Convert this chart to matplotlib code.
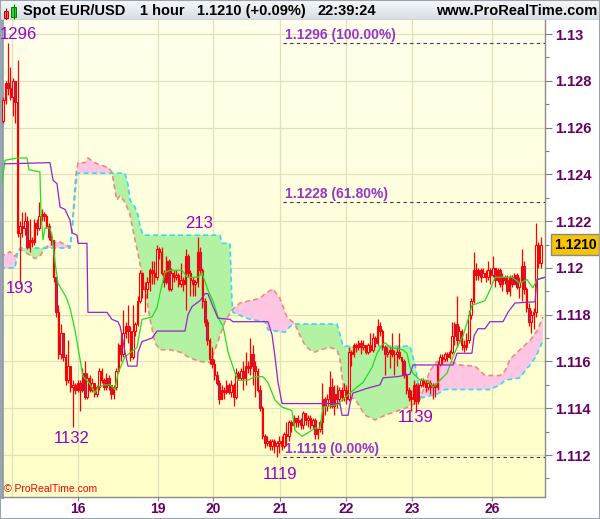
import numpy as np
import matplotlib.pyplot as plt
from matplotlib.patches import Rectangle
from matplotlib.transforms import blended_transform_factory

plt.rcParams['font.family'] = ['Liberation Sans', 'DejaVu Sans']

W, H = 600, 519

# hourly EUR/USD candles, in pips above 1.1000
# (open of a bar = close of the bar before it)
first_open = 263
close_pips = [
    272, 279, 277, 273, 280, 271, 215, 218, 217, 220, 209, 212, 211, 219, 217,
    222, 223, 222, 218, 213, 212, 196, 181, 163, 172, 162, 152, 158, 149, 150,
    148, 151, 148, 155, 145, 153, 148, 151, 146, 149, 156, 152, 149, 153, 150,
    146, 149, 156, 167, 163, 172, 175, 173, 162, 173, 176, 186, 198, 191, 191,
    194, 199, 198, 196, 208, 207, 198, 194, 203, 191, 198, 196, 197, 193, 195,
    193, 205, 198, 195, 193, 194, 207, 199, 186, 177, 169, 161, 159, 154, 151,
    144, 148, 147, 150, 147, 150, 145, 155, 153, 156, 153, 158, 157, 163, 158,
    156, 148, 140, 128, 125, 126, 124, 126, 124, 125, 126, 124, 129, 128, 134,
    133, 136, 134, 135, 133, 138, 135, 136, 133, 135, 129, 131, 134, 144, 141,
    144, 149, 141, 146, 144, 148, 145, 148, 144, 164, 163, 167, 166, 168, 166,
    167, 164, 167, 165, 170, 168, 175, 173, 166, 163, 164, 165, 163, 163, 164,
    162, 160, 154, 148, 145, 144, 150, 143, 150, 152, 151, 149, 151, 149, 150,
    149, 159, 162, 161, 163, 162, 164, 171, 176, 169, 173, 167, 166, 169, 180,
    186, 199, 197, 199, 196, 198, 196, 199, 197, 200, 195, 199, 193, 196, 195,
    190, 196, 193, 197, 192, 194, 201, 191, 183, 177, 180, 181, 210, 202, 210,
]
high_pips = [
    273, 280, 296, 286, 281, 280, 289, 220, 224, 224, 222, 221, 213, 221, 221,
    228, 225, 224, 223, 219, 215, 212, 196, 184, 176, 172, 163, 169, 158, 152,
    151, 152, 152, 157, 160, 155, 154, 153, 151, 150, 157, 157, 153, 155, 154,
    150, 150, 157, 168, 172, 182, 177, 184, 175, 184, 177, 188, 199, 198, 194,
    196, 200, 203, 203, 210, 209, 209, 199, 205, 204, 200, 199, 199, 198, 202,
    196, 208, 206, 199, 196, 195, 213, 209, 200, 187, 178, 170, 166, 161, 156,
    152, 150, 149, 152, 151, 152, 151, 157, 156, 157, 160, 164, 160, 170, 167,
    160, 157, 150, 141, 129, 128, 127, 127, 127, 126, 128, 128, 130, 134, 135,
    135, 137, 136, 137, 136, 139, 138, 137, 137, 136, 136, 131, 135, 151, 145,
    146, 156, 153, 150, 150, 149, 149, 151, 150, 166, 165, 168, 168, 169, 169,
    169, 167, 168, 172, 172, 171, 178, 177, 174, 167, 166, 166, 172, 165, 166,
    172, 162, 161, 155, 149, 148, 152, 151, 151, 153, 153, 152, 152, 152, 151,
    151, 160, 163, 163, 164, 164, 165, 177, 177, 188, 175, 174, 169, 172, 182,
    187, 207, 202, 200, 200, 200, 199, 203, 200, 205, 200, 200, 200, 198, 197,
    197, 197, 197, 198, 198, 196, 208, 203, 192, 185, 182, 183, 219, 211, 213,
]
low_pips = [
    262, 270, 274, 272, 265, 262, 213, 193, 213, 214, 208, 207, 209, 210, 214,
    216, 220, 220, 217, 212, 210, 194, 179, 161, 161, 160, 150, 151, 147, 132,
    146, 147, 139, 147, 144, 144, 147, 147, 145, 145, 148, 151, 148, 148, 148,
    144, 144, 148, 155, 160, 162, 170, 168, 160, 161, 171, 175, 185, 187, 181,
    187, 190, 193, 193, 195, 204, 197, 192, 193, 190, 190, 194, 195, 192, 192,
    190, 182, 196, 188, 188, 188, 192, 197, 183, 175, 167, 159, 157, 152, 150,
    142, 144, 144, 146, 146, 145, 141, 144, 152, 152, 148, 150, 155, 154, 150,
    145, 147, 139, 127, 123, 124, 122, 122, 121, 119, 121, 122, 123, 124, 126,
    130, 131, 132, 132, 131, 131, 133, 132, 131, 131, 127, 127, 130, 129, 137,
    139, 140, 140, 137, 140, 142, 143, 143, 142, 143, 158, 162, 164, 165, 163,
    165, 163, 163, 164, 164, 166, 167, 171, 165, 154, 162, 157, 162, 154, 158,
    161, 154, 153, 146, 143, 139, 142, 139, 142, 149, 149, 147, 148, 146, 144,
    145, 148, 158, 159, 160, 160, 161, 163, 167, 166, 168, 165, 164, 165, 168,
    178, 185, 195, 195, 194, 196, 194, 195, 193, 196, 192, 194, 192, 190, 193,
    189, 188, 192, 193, 191, 187, 186, 189, 181, 175, 172, 174, 179, 200, 200,
]

# ichimoku lines: (bar position, pips)
tenkan = [
    (-1.3, 230), (0.75, 246), (5.75, 247), (9.9, 247), (10.75, 242), (15.3, 241),
    (15.75, 223.5), (16.6, 212), (17.4, 217), (19.5, 217), (20.3, 214), (21.6, 202.5),
    (22.8, 193.5), (24.5, 190.5), (26.2, 187.5), (27.8, 183), (29.9, 173.5), (32, 161),
    (33.25, 153.5), (34.9, 152), (37, 149), (38.25, 146.5), (39.5, 149), (42.4, 150),
    (44.5, 150), (46.6, 148), (47.8, 155), (50.75, 162), (55.75, 166), (57.8, 178),
    (62, 179), (64.1, 183), (65.3, 189), (67.4, 198), (69.5, 199), (74.5, 199),
    (76.6, 196), (81.2, 196), (82.8, 198), (84.1, 194), (85.3, 190.5), (87.4, 186),
    (89.5, 179), (91.6, 175), (93.7, 164), (96.6, 155), (97.8, 152), (102, 152),
    (104.9, 153.5), (108.25, 153.5), (110.3, 151), (113.25, 143.5), (116.2, 140.5),
    (120.3, 139), (121.6, 130.5), (124.5, 128), (127, 129.5), (129.9, 131.5),
    (132, 131.5), (133.25, 140.5), (139.1, 141.5), (144.5, 146.5), (147.4, 149),
    (149.9, 151), (153.7, 157.5), (155.75, 163.5), (157.8, 167), (159.1, 168),
    (161.2, 166), (166.6, 165), (168.25, 163.5), (169.5, 157.5), (170.75, 155),
    (173.7, 152), (176.6, 152), (179.1, 149), (182, 152), (184.9, 155), (187.4, 162),
    (189.1, 166), (191.6, 171), (193.7, 178), (195.3, 184), (200.75, 186),
    (202.8, 190.5), (204.9, 196), (212, 196), (215.3, 193.5), (218.25, 195),
    (220.75, 191.5), (222.4, 195), (225.75, 196),
]
kijun = [
    (0.75, 244.5), (19.5, 245), (20.75, 237.5), (22.4, 236), (23.7, 226), (25.75, 225),
    (27.8, 220.5), (28.7, 215), (30.75, 214), (31.2, 210.5), (34.9, 210.5), (35.3, 181),
    (43.25, 181), (45.3, 178), (47.8, 177), (48.7, 175), (49.9, 169), (50.75, 164),
    (52, 158), (55.75, 158), (56.2, 164), (57.8, 168.5), (62, 170), (64.1, 173),
    (75.75, 173), (77, 180), (78.7, 183.5), (82, 186), (84.1, 189), (85.3, 189),
    (87.4, 183.5), (89.5, 178.5), (94.5, 178), (95.75, 177), (110.3, 177), (112, 171.5),
    (113.25, 162), (114.5, 151), (116.2, 142), (140.3, 142), (141.2, 137), (143.7, 137),
    (144.5, 142), (145.75, 146.5), (151.6, 148.5), (157, 150), (158.25, 153),
    (164.1, 153.5), (169.5, 154.5), (170.75, 158.5), (187.4, 158.5), (189.1, 163.5),
    (195.3, 163.5), (196.2, 171), (197.8, 174), (200.75, 174), (202.8, 177),
    (208.25, 177), (210.3, 181), (213.25, 185), (221.6, 185.5), (222.4, 195),
    (225.75, 196),
]
span_a = [
    (-1.3, 206), (0.75, 205.5), (2.8, 207), (4.9, 205), (7, 208), (10.3, 206),
    (13.25, 204), (15.3, 205), (17.4, 208.5), (19.5, 210), (21.6, 211), (23.7, 211),
    (25.75, 210), (27.8, 209), (28.7, 216), (29.5, 229), (30.3, 240), (31.2, 245),
    (34.1, 245), (35.3, 247), (38.25, 245), (40.3, 244), (43.7, 243), (45.3, 241),
    (46.6, 233), (47.4, 229), (48.7, 231), (50.75, 228), (52.8, 223), (54.9, 212),
    (56.2, 206), (59.1, 191), (61.2, 178), (63.25, 168), (65.3, 165), (69.5, 165),
    (73.7, 164), (77.8, 161.5), (82, 160), (86.2, 159.5), (88.25, 165), (90.3, 171),
    (92.4, 177), (95.3, 182), (98.7, 185), (102.8, 186), (107, 187), (109.1, 189),
    (112.4, 191), (115.3, 187), (118.25, 179), (121.6, 176), (123.7, 171),
    (125.75, 167), (127.8, 165), (129.9, 164), (132, 165), (136.2, 166), (139.1, 165),
    (140.3, 161), (141.6, 150), (143.25, 145), (146.6, 144), (150.75, 137),
    (154.9, 135), (159.1, 137), (163.25, 138.5), (167.4, 140), (171.6, 142),
    (173.7, 144), (175.75, 150), (177.8, 156), (180.75, 160), (186.2, 160),
    (190.3, 158.5), (196.6, 158), (200.75, 154), (207, 154), (209.1, 156),
    (211.2, 161), (215.3, 165), (219.5, 169), (222.4, 173), (224.9, 179),
]
span_b = [
    (-1.3, 200), (4.9, 200), (5.75, 205.5), (7, 208.5), (27.8, 208.5), (28.7, 216),
    (29.9, 231), (30.75, 240), (31.2, 240.5), (50.75, 240.5), (52, 235.5), (52.8, 229),
    (54.9, 226), (56.2, 222.5), (57, 218), (58.25, 214), (90.3, 214), (91.2, 210.5),
    (94.5, 210.5), (95.3, 186), (95.75, 181), (102.8, 178), (109.1, 177),
    (110.3, 173.5), (117.4, 172.5), (119.5, 175), (121.6, 176), (139.1, 176),
    (140.3, 171.5), (141.6, 166.5), (169.5, 166.5), (171.6, 158.5), (173.7, 146),
    (174.5, 144.5), (180.75, 146), (184.1, 148), (202.8, 148), (207, 150),
    (209.1, 152), (215.3, 153), (217.4, 156), (219.5, 158.5), (221.6, 161.5),
    (223.7, 166), (224.9, 169),
]

day_ticks = [31.2, 64.5, 87.4, 115.3, 142.8, 170.3, 203.7]
day_labels = ['16', '19', '20', '21', '22', '23', '26']
price_ticks = [1.112, 1.114, 1.116, 1.118, 1.12, 1.122, 1.124, 1.126, 1.128, 1.13]
price_labels = ['1.112', '1.114', '1.116', '1.118', '1.12', '1.122', '1.124',
                '1.126', '1.128', '1.13']

swing_texts = ['1296', '193', '1132', '213', '1119', '1139']
swing_at = [(6.2, 1.1300), (7.0, 1.1191), (28.7, 1.1127),
            (81.6, 1.1219), (115.3, 1.11115), (172.0, 1.1136)]

fib_levels = [1.1296, 1.1228, 1.1119]
fib_texts = ['1.1296 (100.00%)', '1.1228 (61.80%)', '1.1119 (0.00%)']
fib_start = 116.6
last_price = 1.1210


def to_price(p):
    return 1.1 + np.asarray(p, dtype=float) / 10000.0


def unzip(pairs):
    a = np.array(pairs, dtype=float)
    return a[:, 0], to_price(a[:, 1])


fig = plt.figure(figsize=(W / 100, H / 100), dpi=100, facecolor='white')

# ---- main price panel
ax = fig.add_axes([2 / W, 1 - 497 / H, 543 / W, 477 / H])
x0, x1 = -0.5, 225.75
y0, y1 = 1.110205, 1.130599
grad = np.linspace(0, 1, 256).reshape(-1, 1)
bg = np.zeros((256, 1, 3))
top_c = np.array([255, 255, 236]) / 255
bot_c = np.array([255, 255, 200]) / 255
bg[:, 0, :] = top_c * (1 - grad) + bot_c * grad
ax.imshow(bg, extent=[x0, x1, y0, y1], aspect='auto', origin='upper', zorder=0)

# cloud
ax_x, ax_y = unzip(span_a)
bx_x, bx_y = unzip(span_b)
grid = np.linspace(-1.3, 224.9, 3000)
a_g = np.interp(grid, ax_x, ax_y)
b_g = np.interp(grid, bx_x, bx_y)
ax.fill_between(grid, a_g, b_g, where=a_g >= b_g, interpolate=True,
                facecolor='#ffc6e4', lw=0, zorder=1)
ax.fill_between(grid, a_g, b_g, where=a_g < b_g, interpolate=True,
                facecolor='#b2f2a2', lw=0, zorder=1)
ax.plot(ax_x, ax_y, color='#f08a80', lw=1.2, ls=(0, (3, 2)), zorder=2)
ax.plot(bx_x, bx_y, color='#30dcf0', lw=1.2, ls=(0, (3, 2)), zorder=2)

# candles
c = to_price(close_pips)
o = to_price([first_open] + close_pips[:-1])
hi = to_price(high_pips)
lo = to_price(low_pips)
idx = np.arange(len(c))
up = c >= o
ax.vlines(idx, lo, hi, color='#ff0000', lw=0.9, zorder=3)
ax.bar(idx[up], (c - o)[up], bottom=o[up], width=0.62, facecolor='#ffffe0',
       edgecolor='#ff0000', lw=0.8, zorder=3.5)
ax.bar(idx[~up], (c - o)[~up], bottom=o[~up], width=0.62, facecolor='#7a3a9a',
       edgecolor='#ff0000', lw=0.8, zorder=3.5)

# tenkan / kijun
tx, ty = unzip(tenkan)
kx, ky = unzip(kijun)
ax.plot(tx, ty, color='#22dd22', lw=0.9, zorder=4)
ax.plot(kx, ky, color='#9922cc', lw=0.9, zorder=4)

# fibonacci levels
for lev, txt in zip(fib_levels, fib_texts):
    ax.hlines(lev, fib_start, x1, colors='#4a2a5a', linestyles=(0, (3, 3)),
              lw=0.8, zorder=5)
    ax.text(fib_start + 0.8, lev + 0.00036, txt, color='#9933cc', fontsize=10,
            fontweight='bold', va='center', ha='left', zorder=6)

for txt, (sx, sy) in zip(swing_texts, swing_at):
    ax.text(sx, sy, txt, color='#9900cc', fontsize=12, ha='center', va='center',
            zorder=6)

ax.set_xlim(x0, x1)
ax.set_ylim(y0, y1)

ax.yaxis.tick_right()
ax.set_yticks(price_ticks)
ax.set_yticklabels(price_labels)
ax.set_yticks(np.round(np.arange(1.111, 1.1301, 0.002), 3), minor=True)
ax.set_xticks(day_ticks)
ax.set_xticklabels(day_labels)
ax.tick_params(axis='y', which='major', direction='out', length=5, width=0.8,
               color='#808080', pad=2, labelsize=10.5, labelcolor='#660066')
ax.tick_params(axis='y', which='minor', direction='out', length=3, width=0.8,
               color='#808080')
ax.tick_params(axis='x', which='major', direction='out', length=3, width=0.8,
               color='#808080', pad=0.5, labelsize=10, labelcolor='#660066')
for t in ax.get_yticklabels() + ax.get_xticklabels():
    t.set_fontweight('bold')

ax.set_axisbelow(True)
ax.grid(True, which='major', color='#e2e0ba', lw=0.9)
ax.axvline(3.7, color='#e2e0ba', lw=0.9, zorder=0.5)

ax.spines['top'].set_visible(False)
ax.spines['left'].set_color('#8e9eae')
ax.spines['left'].set_linewidth(2)
for s in ('right', 'bottom'):
    ax.spines[s].set_color('#8c8c8c')
    ax.spines[s].set_linewidth(1)

# last price tag on the axis
trans = blended_transform_factory(ax.transAxes, ax.transData)
ax.text(1.0552, last_price, '%.4f' % last_price, transform=trans, ha='center',
        va='center', fontsize=10, fontweight='bold', color='black', zorder=7,
        bbox=dict(boxstyle='square,pad=0.22', facecolor='#f6c400',
                  edgecolor='#8a8a8a', lw=1), clip_on=False)

fig.text(4 / W, 1 - 489 / H, '\u00a9 ProRealTime.com', color='#ff0000',
         fontsize=7.5, ha='left', va='center')

# ---- header strip
hdr = fig.add_axes([0, 1 - 20 / H, 1, 20 / H])
hg = np.zeros((32, 1, 3))
g = np.linspace(0, 1, 32).reshape(-1, 1)
hg[:, 0, :] = (np.array([245, 248, 250]) / 255) * (1 - g) + (np.array([214, 222, 228]) / 255) * g
hdr.imshow(hg, extent=[0, W, 20, 0], aspect='auto', origin='upper')
hdr.set_xlim(0, W)
hdr.set_ylim(20, 0)
hdr.axis('off')
hdr.axhline(19.5, color='#a8b2bb', lw=1)
# small candle icon
hdr.vlines(6, 8, 20, color='#c00000', lw=0.8)
hdr.add_patch(Rectangle((3.5, 10.7), 4.5, 7.5, facecolor='#ff6a6a', edgecolor='#c00000', lw=0.7))
hdr.vlines(13.5, 4, 19, color='#008000', lw=0.8)
hdr.add_patch(Rectangle((11, 6.7), 5, 10, facecolor='#33d033', edgecolor='#008000', lw=0.7))
hfont = dict(fontsize=10.5, fontweight='bold', color='black', va='center')
hdr.text(23, 11, 'Spot EUR/USD', ha='left', **hfont)
hdr.text(140, 11, '1 hour', ha='left', **hfont)
hdr.text(197, 11, '1.1210 (+0.09%)', ha='left', **hfont)
hdr.text(318, 11, '22:39:24', ha='left', **hfont)
hdr.text(597, 11, 'www.ProRealTime.com', ha='right', **hfont)

fig.patches.append(Rectangle((0, 0), 1, 1, transform=fig.transFigure, fill=False,
                             edgecolor='#9aa4ad', lw=1.5))

fig.savefig('out.png', dpi=100, facecolor='white')
